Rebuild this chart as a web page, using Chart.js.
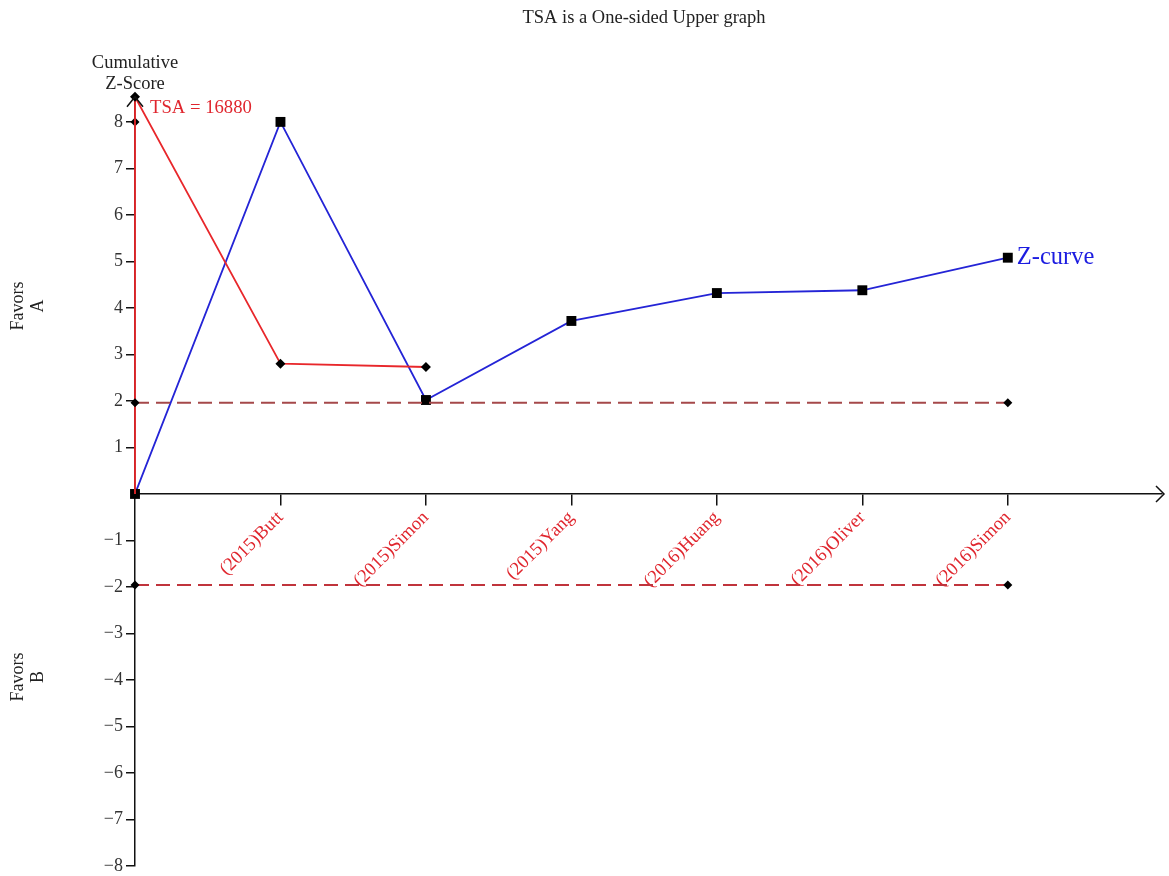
<!DOCTYPE html>
<html>
<head>
<meta charset="utf-8">
<title>TSA</title>
<script src="https://cdn.jsdelivr.net/npm/chart.js@4.4.0/dist/chart.umd.min.js"></script>
<style>
  html, body { margin: 0; padding: 0; background: #fff; }
  #wrap { width: 1169px; height: 876px; }
</style>
</head>
<body>
<div id="wrap"><canvas id="tsaChart"></canvas></div>
<script>
// trials in order, x = 1..6 (x = 0 is the origin)
const studies = ["(2015)Butt", "(2015)Simon", "(2015)Yang", "(2016)Huang", "(2016)Oliver", "(2016)Simon"];
const zCurve = [0, 8, 2.02, 3.72, 4.32, 4.38, 5.08];
const boundary = [8.54, 2.8, 2.73];
const conventional = [1.96, -1.96];
const yTickValues = [-8, -7, -6, -5, -4, -3, -2, -1, 1, 2, 3, 4, 5, 6, 7, 8];

const serif = "'Liberation Serif', 'Times New Roman', serif";
Chart.defaults.font.family = serif;

const zPoints = zCurve.map((v, i) => ({ x: i, y: v }));
// boundary runs up the axis from 0, then down across the trials
const boundaryPoints = [{ x: 0, y: 0 }].concat(boundary.map((v, i) => ({ x: i, y: v })));
const last = studies.length;

const decorations = {
  id: "decorations",
  afterDraw(chart) {
    const { ctx, scales: { x, y } } = chart;
    const x0 = x.getPixelForValue(0);
    const y0 = y.getPixelForValue(0);
    const yTop = y.getPixelForValue(boundary[0]);
    ctx.save();

    // arrow heads on both axes
    ctx.strokeStyle = "#111";
    ctx.lineWidth = 1.5;
    ctx.beginPath();
    ctx.moveTo(x0 - 8, yTop + 10);
    ctx.lineTo(x0, yTop);
    ctx.lineTo(x0 + 8, yTop + 10);
    ctx.stroke();
    const xEnd = x.right + 2;
    ctx.beginPath();
    ctx.moveTo(xEnd - 8, y0 - 8);
    ctx.lineTo(xEnd, y0);
    ctx.lineTo(xEnd - 8, y0 + 8);
    ctx.stroke();

    ctx.fillStyle = "#222";
    ctx.textAlign = "center";
    ctx.textBaseline = "middle";
    ctx.font = "18.5px " + serif;
    ctx.fillText("TSA is a One-sided Upper graph", 644, 18);

    ctx.fillText("Cumulative", x0, 63);
    ctx.fillText("Z-Score", x0, 84);

    // side notes
    const side = (cy, letter) => {
      ctx.save();
      ctx.translate(0, cy);
      ctx.rotate(-Math.PI / 2);
      ctx.fillText("Favors", 0, 18);
      ctx.fillText(letter, 0, 38);
      ctx.restore();
    };
    ctx.font = "18px " + serif;
    side(306, "A");
    side(677, "B");

    ctx.textAlign = "left";
    ctx.fillStyle = "#e0262e";
    ctx.font = "18.7px " + serif;
    ctx.fillText("TSA = 16880", 150, 108);

    ctx.fillStyle = "#1c1ce0";
    ctx.font = "24.5px " + serif;
    ctx.fillText("Z-curve", x.getPixelForValue(last) + 9, y.getPixelForValue(zCurve[last]));
    ctx.restore();
  }
};

new Chart(document.getElementById("tsaChart"), {
  type: "line",
  data: {
    datasets: [
      {
        label: "upper",
        data: [{ x: 0, y: conventional[0] }, { x: last, y: conventional[0] }],
        borderColor: "#a5484a",
        borderWidth: 2,
        borderDash: [14, 7],
        pointStyle: "rectRot",
        pointRadius: 4.5,
        pointBackgroundColor: "#000",
        pointBorderWidth: 0
      },
      {
        label: "lower",
        data: [{ x: 0, y: conventional[1] }, { x: last, y: conventional[1] }],
        borderColor: "#c0343c",
        borderWidth: 2,
        borderDash: [14, 7],
        pointStyle: "rectRot",
        pointRadius: 4.5,
        pointBackgroundColor: "#000",
        pointBorderWidth: 0
      },
      {
        label: "boundary",
        data: boundaryPoints,
        borderColor: "#e8272b",
        borderWidth: 1.8,
        pointStyle: "rectRot",
        pointRadius: [0, 5, 5, 5],
        pointBackgroundColor: "#000",
        pointBorderWidth: 0
      },
      {
        label: "mark8",
        data: [{ x: 0, y: 8 }],
        showLine: false,
        pointStyle: "rectRot",
        pointRadius: 4.5,
        pointBackgroundColor: "#000",
        pointBorderWidth: 0
      },
      {
        label: "Z-curve",
        data: zPoints,
        borderColor: "#2424d6",
        borderWidth: 1.8,
        pointStyle: "rect",
        pointRadius: 7,
        pointBackgroundColor: "#000",
        pointBorderWidth: 0
      }
    ]
  },
  options: {
    responsive: true,
    maintainAspectRatio: false,
    animation: false,
    clip: false,
    layout: { padding: { top: 94, right: 4, bottom: 10, left: 0 } },
    plugins: { legend: { display: false }, tooltip: { enabled: false } },
    scales: {
      x: {
        type: "linear",
        position: { y: 0 },
        min: 0,
        max: 7.06,
        afterBuildTicks(scale) {
          scale.ticks = studies.map((s, i) => ({ value: i + 1 }));
        },
        ticks: {
          color: "#e0262e",
          font: { size: 18.5 },
          minRotation: 45,
          maxRotation: 45,
          padding: 2,
          callback: (v) => studies[v - 1] || ""
        },
        grid: { drawOnChartArea: false, tickLength: 11, color: "#111", lineWidth: 1.5 },
        border: { color: "#111", width: 1.5 }
      },
      y: {
        type: "linear",
        min: -8,
        max: 8.6,
        afterFit(scale) {
          scale.width = 135;
          scale.paddingTop = 0;
          scale.paddingBottom = 0;
        },
        afterBuildTicks(scale) {
          scale.ticks = yTickValues.map((v) => ({ value: v }));
        },
        ticks: {
          color: "#333",
          font: { size: 18 },
          padding: 3,
          callback: (v) => (v < 0 ? "\u2212" + Math.abs(v) : String(v))
        },
        grid: { drawOnChartArea: false, tickLength: 9, color: "#111", lineWidth: 1.5 },
        border: { color: "#111", width: 1.5 }
      }
    }
  },
  plugins: [decorations]
});
</script>
</body>
</html>
